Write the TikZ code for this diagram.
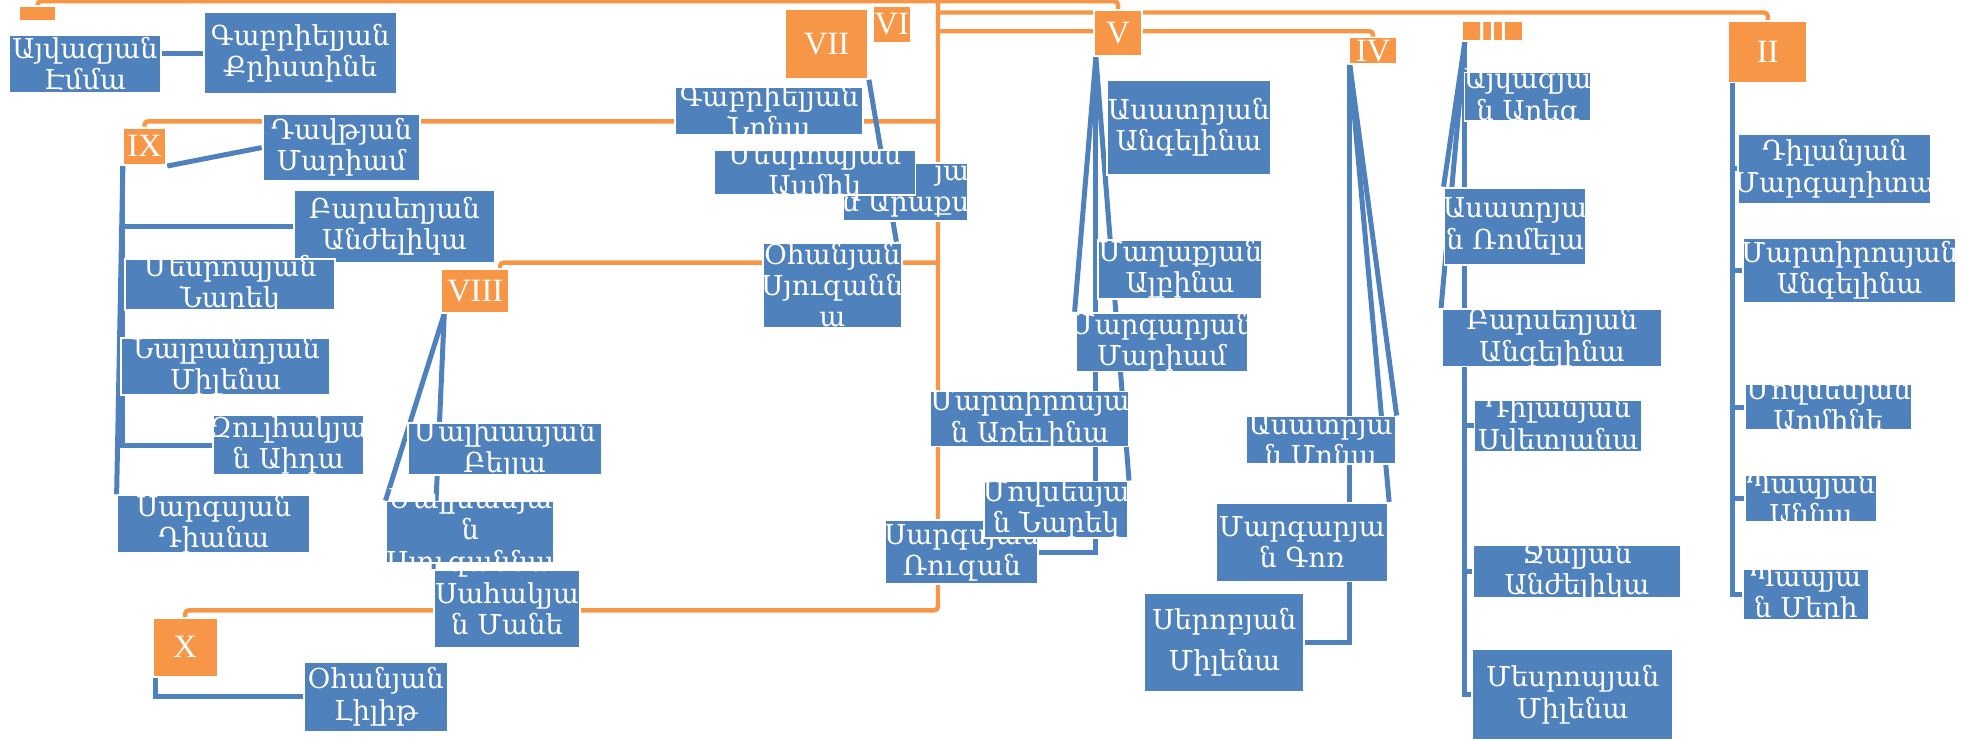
\documentclass[tikz,border=0pt]{standalone}
\usepackage{fontspec}
\setmainfont{DejaVu Serif}
\newfontfamily\romfont{Liberation Serif}
\usepackage{tikz}
\usetikzlibrary{backgrounds}
\definecolor{pblue}{HTML}{4F81BD}
\definecolor{porange}{HTML}{F79646}

\begin{document}
\begin{tikzpicture}[x=1pt,y=-1pt,
    sz/.style 2 args={minimum width=#1,minimum height=#2},
    person/.style={rectangle,fill=pblue,draw=white,line width=1.5pt,inner sep=0pt},
    gen/.style={rectangle,fill=porange,draw=white,line width=1.5pt,inner sep=0pt},
    ptext/.style={text=white,align=center,inner sep=0pt,font=\fontsize{22}{25}\selectfont},
    gtext/.style={text=white,inner sep=0pt,font=\romfont\fontsize{26}{26}\selectfont},
    oline/.style={draw=porange,line width=3.5pt,rounded corners=3pt},
    bline/.style={draw=pblue,line width=4pt}]
    \useasboundingbox (0,0) rectangle (1568,592);

    \node[gen,sz={30}{12}] (gI) at (30,11) {};
    \node[gen,sz={30}{29},label={[gtext]center:VI}] (gVI) at (713,19.5) {};
    \node[gen,sz={66}{56},label={[gtext]center:VII}] (gVII) at (661,35) {};
    \node[gen,sz={38}{37},label={[gtext]center:V}] (gV) at (894,26.5) {};
    \node[gen,sz={38}{21},label={[gtext]center:IV}] (gIV) at (1098,40.5) {};
    \node[gen,sz={49}{16},label={[gtext]center:III}] (gIII) at (1193.5,25) {};
    \node[gen,sz={63}{49},label={[gtext]center:II}] (gII) at (1413.5,41.5) {};
    \node[gen,sz={35}{30},label={[gtext]center:IX}] (gIX) at (115.5,117) {};
    \node[gen,sz={54}{35},label={[gtext]center:VIII}] (gVIII) at (380,232.5) {};
    \node[gen,sz={52}{47},label={[gtext]center:X}] (gX) at (148,517.5) {};

    \node[person,sz={122}{46},label={[ptext]center:{Այվազյան\\Էմմա}}] (emma) at (68,51) {};
    \node[person,sz={154}{65},label={[ptext]center:{Գաբրիելյան\\Քրիստինե}}] (kristine) at (240,42.5) {};
    \node[person,sz={126}{54},label={[ptext]center:{Դավթյան\\Մարիամ}}] (mariam) at (273,118) {};
    \node[person,sz={161}{58},label={[ptext]center:{Բարսեղյան\\Անժելիկա}}] (anzhelika) at (315.5,181) {};
    \node[person,sz={168}{41},label={[ptext]center:{Մեսրոպյան\\Նարեկ}}] (narek) at (184,227.5) {};
    \node[person,sz={167}{46},label={[ptext]center:{Նալբանդյան\\Միլենա}}] (milena) at (180.5,293) {};
    \node[person,sz={121}{48},label={[ptext]center:{Զուլհակյա\\ն Աիդա}}] (aida) at (230.5,356) {};
    \node[person,sz={154}{46},label={[ptext]center:{Սարգսյան\\Դիանա}}] (diana) at (171,419) {};
    \node[person,sz={155}{42},label={[ptext]center:{Մալխասյան\\Բելլա}}] (bella) at (403.5,359) {};
    \node[person,sz={117}{62},label={[ptext]center:{Սահակյա\\ն Մանե}}] (mane) at (405.5,487) {};
    \node[person,sz={134}{49},label={[ptext]center:{Մալխասյա\\ն\\Սյուզաննա}}] (syuzanna) at (376,425.5) {};
    \node[person,sz={115}{56},label={[ptext]center:{Օհանյան\\Լիլիթ}}] (lilit) at (300.5,557) {};

    \node[person,sz={150}{38},label={[ptext]center:{Գաբրիելյան\\Նոնա}}] (nona) at (615,89) {};
    \node[person,sz={100}{47},label={[ptext,align=right]center:{յա\\ն Արաքս}}] (araqs) at (724,153.5) {};
    \node[person,sz={161}{36},label={[ptext]center:{Մեսրոպյան\\Ասմիկ}}] (asmik) at (651.5,138) {};
    \node[person,sz={111}{68},label={[ptext]center:{Օհանյան\\Սյուզանն\\ա}}] (syuzanna2) at (665.5,228) {};

    \node[person,sz={131}{76},label={[ptext]center:{Ասատրյան\\Անգելինա}}] (angelina) at (950.5,102) {};
    \node[person,sz={131}{47},label={[ptext]center:{Մաղաքյան\\Ալբինա}}] (albina) at (943.5,215.5) {};
    \node[person,sz={138}{47},label={[ptext]center:{Մարգարյան\\Մարիամ}}] (mariam2) at (929,273.5) {};
    \node[person,sz={159}{44},label={[ptext]center:{Մարտիրոսյա\\ն Առեւինա}}] (arevina) at (823.5,335) {};
    \node[person,sz={122}{51},label={[ptext]center:{Սարգսյան\\Ռուզան}}] (ruzan) at (769,441.5) {};
    \node[person,sz={115}{45},label={[ptext]center:{Մովսեսյա\\ն Նարեկ}}] (narek2) at (844.5,407.5) {};

    \node[person,sz={120}{38},label={[ptext]center:{Ասատրյա\\ն Մոնա}}] (mona) at (1056,352) {};
    \node[person,sz={138}{63},label={[ptext]center:{Մարգարյա\\ն Գոռ}}] (gor) at (1041,433.5) {};
    \node[person,sz={128}{79},label={[ptext]center:{Սերոբյան\\[8pt]Միլենա}}] (milena2) at (979,513.5) {};

    \node[person,sz={101}{39},label={[ptext]center:{Այվազյա\\ն Արեգ}}] (areg) at (1221.5,77.5) {};
    \node[person,sz={113}{62},label={[ptext]center:{Ասատրյա\\ն Ռոմելա}}] (romela) at (1211.5,181) {};
    \node[person,sz={176}{46},label={[ptext]center:{Բարսեղյան\\Անգելինա}}] (angelina2) at (1241,270) {};
    \node[person,sz={134}{41},label={[ptext]center:{Դիլանյան\\Սվետլանա}}] (svetlana) at (1246,340.5) {};
    \node[person,sz={166}{42},label={[ptext]center:{Ջալյան\\Անժելիկա}}] (anzhelika2) at (1261,457) {};
    \node[person,sz={161}{73},label={[ptext]center:{Մեսրոպյան\\Միլենա}}] (milena3) at (1257.5,555.5) {};

    \node[person,sz={154}{56},label={[ptext]center:{Դիլանյան\\Մարգարիտա}}] (margarita) at (1467,135) {};
    \node[person,sz={170}{52},label={[ptext]center:{Մարտիրոսյան\\Անգելինա}}] (angelina3) at (1479,216) {};
    \node[person,sz={134}{37},label={[ptext]center:{Մովսեսյան\\Արմինե}}] (armine) at (1462,325.5) {};
    \node[person,sz={106}{37},label={[ptext]center:{Պապյան\\Աննա}}] (anna) at (1448,398.5) {};
    \node[person,sz={100}{41},label={[ptext]center:{Պապյա\\ն Մերի}}] (meri) at (1444,475.5) {};

    \coordinate (hub) at (750,1);
    \coordinate (hubx) at (750,488);

    \begin{scope}[on background layer]
    \draw[oline] (gI.north) |- (hub) -| (gV.north);
    \draw[oline] (hub) -- (hubx) -| (gX.north);
    \draw[oline] (hub |- 0,97) -| (gIX.north);
    \draw[oline] (hub |- 0,210) -| ([xshift=-8pt]gVIII.north east);
    \draw[oline] (hub |- 0,10) -| (gII.north);
    \draw[oline] (hub |- 0,25) -| (gIV.north);

    \draw[bline] (emma.east |- kristine.west) -- (kristine.west);
    \draw[bline] (gIX.south east) -- (mariam.west);
    \foreach \n in {anzhelika,narek,milena,aida}
        \draw[bline] ([xshift=1pt]gIX.south west) |- (\n.west);
    \draw[bline] ([xshift=1pt]gIX.south west) -- (diana.north west);
    \draw[bline] ([xshift=3pt]gVIII.south west) -- (syuzanna.north west);
    \draw[bline] ([xshift=3pt]gVIII.south west) -- (mane.north west);
    \draw[bline] ([xshift=3pt]gX.south west) |- (lilit.west);
    \draw[bline] (gVII.south east) -- ([xshift=-5pt]syuzanna2.north east);
    \draw[bline] ([xshift=2pt]gV.south west) -- (mariam2.north west);
    \draw[bline] ([xshift=2pt]gV.south west) |- (ruzan.east);
    \draw[bline] ([xshift=2pt]gV.south west) -- (narek2.north east);
    \draw[bline] ([xshift=1pt]gIV.south west) |- (milena2.east);
    \draw[bline] ([xshift=1pt]gIV.south west) -- (mona.north east);
    \draw[bline] ([xshift=1pt]gIV.south west) -- (gor.north east);
    \foreach \n in {areg,svetlana,anzhelika2,milena3}
        \draw[bline] ([xshift=3pt]gIII.south west) |- (\n.west);
    \draw[bline] ([xshift=3pt]gIII.south west) -- (romela.north west);
    \draw[bline] ([xshift=3pt]gIII.south west) -- (angelina2.north west);
    \foreach \n in {margarita,angelina3,armine,anna,meri}
        \draw[bline] ([xshift=4pt]gII.south west) |- (\n.west);
    \end{scope}
\end{tikzpicture}
\end{document}
